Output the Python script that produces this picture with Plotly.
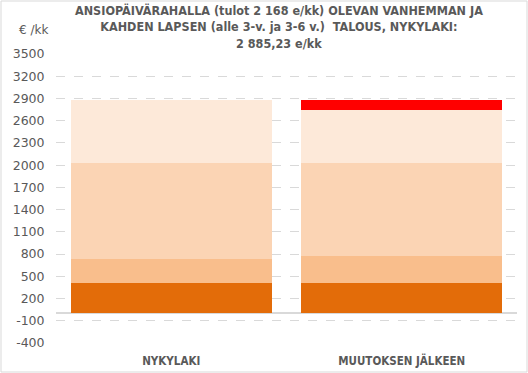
import plotly.graph_objects as go

categories = ["NYKYLAKI", "MUUTOKSEN JÄLKEEN"]
seg1 = [405, 405]
seg2 = [324, 364]
seg3 = [1295, 1255]
seg4 = [861, 716]
seg5 = [0, 145]
colors = ["#E36C09", "#F9BE8C", "#FBD4B4", "#FDE9D9", "#FF0000"]
tickvals = list(range(-400, 3501, 300))
ticktext = [str(v) for v in tickvals]
title_lines = ["ANSIOPÄIVÄRAHALLA (tulot 2 168 e/kk) OLEVAN VANHEMMAN JA",
               "KAHDEN LAPSEN (alle 3-v. ja 3-6 v.)  TALOUS, NYKYLAKI:",
               "2 885,23 e/kk"]

fig = go.Figure()
for vals, c in zip([seg1, seg2, seg3, seg4, seg5], colors):
    fig.add_trace(go.Bar(x=categories, y=vals, marker=dict(color=c, line=dict(width=0)),
                         showlegend=False))

W, H = 528, 373
ml, mr, mt, mb = 56, 11, 54, 30
pw, ph = W - ml - mr, H - mt - mb

fig.update_layout(
    width=W, height=H,
    margin=dict(l=ml, r=mr, t=mt, b=mb),
    barmode="stack", bargap=0.13,
    plot_bgcolor="white", paper_bgcolor="white",
    font=dict(family="DejaVu Sans", color="#595959"),
    xaxis=dict(showline=False, ticks="outside", ticklen=7, tickcolor="white", automargin=False,
               tickfont=dict(family="DejaVu Sans Condensed", size=11.5, color="#595959", weight="bold")),
    yaxis=dict(range=[-400, 3500], tickvals=tickvals, ticktext=ticktext, showgrid=True,
               gridcolor="#d9d9d9", automargin=False,
               griddash="dash", gridwidth=1, zeroline=True, zerolinecolor="#d9d9d9", zerolinewidth=2,
               tickfont=dict(family="DejaVu Sans", size=12.5, color="#595959"),
               ticks="outside", ticklen=8, tickcolor="white"),
    shapes=[dict(type="rect", xref="paper", yref="paper",
                 x0=-(ml - 1) / pw, x1=1 + (mr - 1) / pw,
                 y0=-(mb - 1) / ph, y1=1 + (mt - 1) / ph,
                 line=dict(color="#d9d9d9", width=1), layer="below")],
    annotations=[
        dict(text="<br>".join(title_lines), xref="paper", yref="paper",
             x=(279 - ml) / pw, y=1 + (mt - 1) / ph, xanchor="center", yanchor="top",
             showarrow=False, align="center",
             font=dict(family="DejaVu Sans Condensed", size=12.5, color="#595959", weight="bold")),
        dict(text="€ /kk", xref="paper", yref="paper", x=(17 - ml) / pw, y=1 + (mt - 30) / ph,
             xanchor="left", yanchor="middle", showarrow=False,
             font=dict(family="DejaVu Sans", size=12, color="#595959")),
    ],
)
fig.write_html("out.html")
